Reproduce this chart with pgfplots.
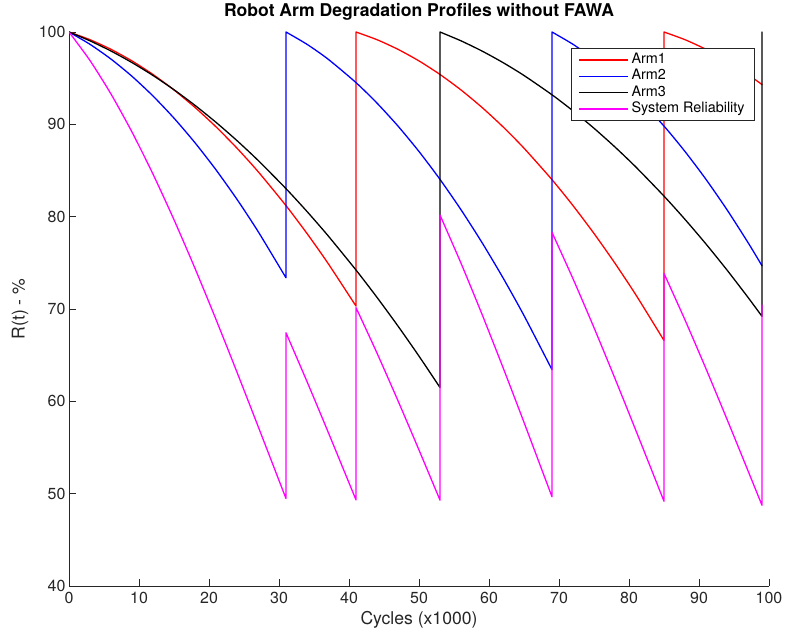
\documentclass[border=0pt]{standalone}
\usepackage{fontspec}
\setmainfont{TeX Gyre Heros}
\usepackage{pgfplots}
\pgfplotsset{compat=1.18}
\definecolor{axisgray}{rgb}{0.15,0.15,0.15}
\definecolor{armred}{rgb}{1,0,0}
\definecolor{armblue}{rgb}{0,0,1}
\definecolor{sysmag}{rgb}{1,0,1}

% Reliability of each arm (%); a nan row breaks the curve, so that every
% ageing stretch is smoothed on its own and every replacement is a vertical jump
\pgfplotstableread{
t R
0 100
3 99.167
6 98.123
9 96.868
12 95.400
15 93.722
18 91.832
21 89.730
24 87.417
27 84.892
31 81.197
34 78.179
37 74.949
41 70.314
41 nan
41 70.314
41 100
41 nan
41 100
44 99.167
47 98.123
50 96.868
53 95.400
56 93.722
59 91.832
62 89.730
65 87.417
69 84.004
72 81.197
75 78.179
78 74.949
81 71.508
85 66.591
85 nan
85 66.591
85 100
85 nan
85 100
88 99.167
91 98.123
94 96.868
97 95.400
99 94.305
}\armone

\pgfplotstableread{
t R
0 100
3 98.667
6 97.067
9 95.201
12 93.069
15 90.670
18 88.005
21 85.073
24 81.875
27 78.411
31 73.377
31 nan
31 73.377
31 100
31 nan
31 100
34 98.667
37 97.067
41 94.520
44 92.299
47 89.811
50 87.057
53 84.037
56 80.750
59 77.197
62 73.377
65 69.291
69 63.429
69 nan
69 63.429
69 100
69 nan
69 100
72 98.667
75 97.067
78 95.201
81 93.069
85 89.811
88 87.057
91 84.037
94 80.750
97 77.197
99 74.680
}\armtwo

\pgfplotstableread{
t R
0 100
3 99.043
6 97.939
9 96.688
12 95.291
15 93.747
18 92.057
21 90.219
24 88.235
27 86.104
31 83.035
34 80.562
37 77.942
41 74.221
44 71.259
47 68.150
50 64.895
53 61.493
53 nan
53 61.493
53 100
53 nan
53 100
56 99.043
59 97.939
62 96.688
65 95.291
69 93.200
72 91.460
75 89.574
78 87.541
81 85.362
85 82.227
88 79.705
91 77.037
94 74.221
97 71.259
99 69.203
99 nan
99 69.203
99 100
}\armthree

% System reliability: product of the three arms
\pgfplotstableread{
t R
0 100
3 96.909
6 93.282
9 89.165
12 84.607
15 79.664
18 74.398
21 68.870
24 63.152
27 57.315
31 49.472
31 nan
31 49.472
31 67.422
31 nan
31 67.422
34 62.143
37 56.703
41 49.328
41 nan
41 49.328
41 70.154
41 nan
41 70.154
44 65.224
47 60.057
50 54.726
53 49.300
53 nan
53 49.300
53 80.171
53 nan
53 80.171
56 74.956
59 69.430
62 63.661
65 57.720
69 49.660
69 nan
69 49.660
69 78.292
69 nan
69 78.292
72 73.273
75 67.974
78 62.462
81 56.810
85 49.177
85 nan
85 49.177
85 73.849
85 nan
85 73.849
88 68.811
91 63.524
94 58.056
97 52.479
99 48.738
99 nan
99 48.738
99 70.427
}\system

\begin{document}
\begin{tikzpicture}
\useasboundingbox (-69pt,-46pt) rectangle (717pt,586pt);
\begin{axis}[
  at={(0pt,0pt)}, anchor=south west,
  scale only axis, width=700pt, height=554pt,
  xmin=0, xmax=100, ymin=40, ymax=100,
  xtick={0,10,...,100}, ytick={40,50,...,100},
  axis x line*=bottom, axis y line*=left,
  axis line style={-, axisgray, line width=0.9pt},
  tick style={axisgray, line width=0.9pt},
  tick align=inside, major tick length=7pt,
  /pgf/number format/assume math mode=true,
  ticklabel style={font=\fontsize{16}{19}\selectfont, text=axisgray},
  xticklabel style={yshift=-3pt},
  xlabel={Cycles (x1000)}, ylabel={R(t) - \%},
  label style={font=\fontsize{17.6}{21}\selectfont, text=axisgray},
  xlabel style={at={(axis description cs:0.5,-0.0614)}, anchor=center},
  ylabel style={at={(axis description cs:-0.07,0.5)}, anchor=center},
  title={Robot Arm Degradation Profiles without FAWA},
  every axis title/.style={at={(0.5,1.036)}, anchor=center,
    font=\bfseries\fontsize{17.6}{21}\selectfont},
  unbounded coords=jump,
  every axis plot/.append style={line width=1.3pt, smooth, tension=0.4, line cap=round},
  legend style={at={(0.98,0.9711)}, anchor=north east, draw=axisgray, line width=0.8pt,
    font=\fontsize{14.4}{16}\selectfont, inner xsep=7.5pt, inner ysep=3.5pt,
    nodes={inner xsep=2.5pt, inner ysep=1.2pt, text height=10.5pt, text depth=3.4pt}},
  legend cell align=left,
  legend image code/.code={\draw[#1, line cap=butt] (0pt,0pt) -- (49pt,0pt);},
]
\addplot[armred] table[x=t, y=R] {\armone};
\addlegendentry{Arm1}
\addplot[armblue] table[x=t, y=R] {\armtwo};
\addlegendentry{Arm2}
\addplot[black] table[x=t, y=R] {\armthree};
\addlegendentry{Arm3}
\addplot[sysmag] table[x=t, y=R] {\system};
\addlegendentry{System Reliability}
\end{axis}
\end{tikzpicture}
\end{document}
